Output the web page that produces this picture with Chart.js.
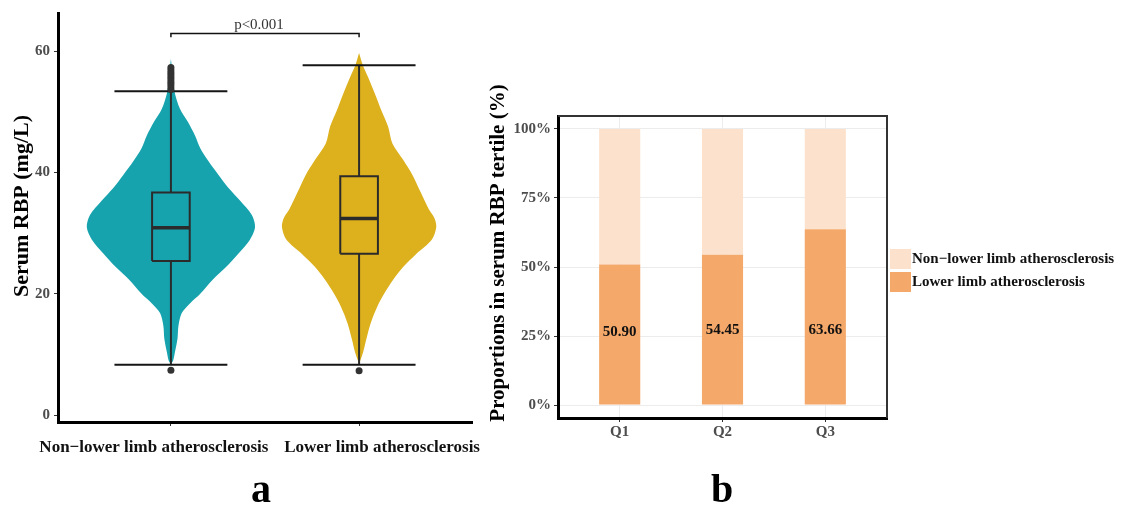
<!DOCTYPE html>
<html>
<head>
<meta charset="utf-8">
<script src="https://cdn.jsdelivr.net/npm/chart.js@4.4.0/dist/chart.umd.min.js"></script>
<style>
  html, body { margin: 0; padding: 0; background: #fff; }
  #wrap { position: relative; width: 1121px; height: 513px; overflow: hidden; }
  #violinChart { position: absolute; left: 0; top: 0; }
  #barChart { position: absolute; left: 480px; top: 0; }
</style>
</head>
<body>
<div id="wrap">
  <canvas id="violinChart" width="480" height="513"></canvas>
  <canvas id="barChart" width="641" height="513"></canvas>
</div>
<script>
// ---------- panel a: violin + box ----------
const groups = ['Non\u2212lower limb atherosclerosis', 'Lower limb atherosclerosis'];
const leftTicks = [0, 20, 40, 60];

// violin outline: RBP level and half width (in group units)
const nonLevels    = [8.4, 9.0, 10.3, 12.6, 14.7, 16.8, 18.4, 20.0, 22.3, 24.4, 26.6, 28.9, 31.0, 33.0, 35.4, 37.5, 39.6, 41.9, 44.0, 46.1, 48.4, 50.5, 53.5, 56.0, 58.7];
const nonHalfWidth = [0, 0.012, 0.021, 0.035, 0.040, 0.057, 0.101, 0.156, 0.222, 0.293, 0.358, 0.420, 0.447, 0.430, 0.367, 0.305, 0.253, 0.199, 0.156, 0.128, 0.089, 0.048, 0.018, 0.010, 0];
const lowLevels    = [8.4, 10.3, 12.6, 15.2, 17.9, 20.0, 22.3, 24.4, 26.6, 28.9, 31.0, 32.5, 34.0, 36.7, 39.4, 42.1, 44.8, 47.6, 50.2, 53.0, 55.7, 57.6, 59.7];
const lowHalfWidth = [0, 0.021, 0.039, 0.062, 0.097, 0.133, 0.181, 0.234, 0.305, 0.386, 0.410, 0.400, 0.370, 0.328, 0.287, 0.234, 0.177, 0.154, 0.119, 0.084, 0.048, 0.021, 0];

const boxQ1 = [25.4, 26.6];
const boxMedian = [30.9, 32.4];
const boxQ3 = [36.7, 39.4];
const whiskerLow = [8.3, 8.3];
const whiskerHigh = [53.4, 57.7];
const outliersNon = [7.4, 53.7, 54.1, 54.5, 54.9, 55.3, 55.7, 56.1, 56.5, 56.9, 57.3];
const outliersLow = [7.3];
const bracketY = 62.9;
const bracketTickY = 62.3;
const pLabel = 'p<0.001';

// ---------- panel b: stacked bars ----------
const tertiles = ['Q1', 'Q2', 'Q3'];
const lowerPct = [50.90, 54.45, 63.66];
const nonLowerPct = [49.10, 45.55, 36.34];
const barLabelY = [26.3, 27.0, 27.0];
const rightTicks = [0, 25, 50, 75, 100];
const legendLabels = ['Non\u2212lower limb atherosclerosis', 'Lower limb atherosclerosis'];

Chart.defaults.font.family = "'Liberation Serif', 'Times New Roman', serif";

const violinColors = ['#17A3AE', '#DDB11D'];
const barColors = ['#F4A869', '#FCE2CC'];
const tickFont = { size: 15, weight: 'bold' };
const tickColor = '#4d4d4d';

function violinPoints(c, levels, half) {
  const right = levels.map((v, i) => ({ x: c + half[i], y: v }));
  const left = levels.map((v, i) => ({ x: c - half[i], y: v })).reverse();
  return right.concat(left);
}

function lineSet(points, color, width, order) {
  return { data: points, showLine: true, borderColor: color, borderWidth: width,
           pointRadius: 0, fill: false, order: order };
}

const violinDatasets = [];
const profiles = [[nonLevels, nonHalfWidth], [lowLevels, lowHalfWidth]];
const outliers = [outliersNon, outliersLow];
const boxHalf = 0.1, capHalf = 0.3;

groups.forEach((g, i) => {
  const c = i + 1;
  violinDatasets.push({
    data: outliers[i].map(v => ({ x: c, y: v })),
    pointRadius: 3.5, backgroundColor: '#333', borderColor: '#333', borderWidth: 0, order: 0
  });
  violinDatasets.push(lineSet([{ x: c - capHalf, y: whiskerLow[i] }, { x: c + capHalf, y: whiskerLow[i] }], '#151515', 2, 1));
  violinDatasets.push(lineSet([{ x: c - capHalf, y: whiskerHigh[i] }, { x: c + capHalf, y: whiskerHigh[i] }], '#151515', 2, 1));
  violinDatasets.push(lineSet([{ x: c - boxHalf, y: boxMedian[i] }, { x: c + boxHalf, y: boxMedian[i] }], '#2b2b2b', 3.5, 2));
  violinDatasets.push(lineSet([
    { x: c - boxHalf, y: boxQ1[i] }, { x: c + boxHalf, y: boxQ1[i] },
    { x: c + boxHalf, y: boxQ3[i] }, { x: c - boxHalf, y: boxQ3[i] },
    { x: c - boxHalf, y: boxQ1[i] }], '#2b2b2b', 2, 3));
  violinDatasets.push(lineSet([{ x: c, y: whiskerLow[i] }, { x: c, y: boxQ1[i] }], '#2b2b2b', 2, 4));
  violinDatasets.push(lineSet([{ x: c, y: boxQ3[i] }, { x: c, y: whiskerHigh[i] }], '#2b2b2b', 2, 4));
  violinDatasets.push({
    data: violinPoints(c, profiles[i][0], profiles[i][1]),
    showLine: true, fill: 'shape', backgroundColor: violinColors[i],
    borderWidth: 0, borderColor: violinColors[i], pointRadius: 0, tension: 0.3, order: 5
  });
});

// significance bracket
violinDatasets.push(lineSet([
  { x: 1, y: bracketTickY }, { x: 1, y: bracketY },
  { x: 2, y: bracketY }, { x: 2, y: bracketTickY }], '#111', 1.5, 1));

function drawText(ctx, text, x, y, font, color, align, baseline, rot) {
  ctx.save();
  ctx.translate(x, y);
  if (rot) ctx.rotate(rot);
  ctx.font = font;
  ctx.fillStyle = color;
  ctx.textAlign = align;
  ctx.textBaseline = baseline;
  ctx.fillText(text, 0, 0);
  ctx.restore();
}

const serif = "'Liberation Serif', 'Times New Roman', serif";

const panelA = {
  id: 'panelA',
  afterDraw(chart) {
    const ctx = chart.ctx;
    const xs = chart.scales.x, ys = chart.scales.y;
    drawText(ctx, 'Serum RBP (mg/L)', 22, 206, 'bold 22px ' + serif, '#000', 'center', 'middle', -Math.PI / 2);
    drawText(ctx, groups[0], xs.getPixelForValue(1) - 17, 452, 'bold 17px ' + serif, '#111', 'center', 'alphabetic');
    drawText(ctx, groups[1], xs.getPixelForValue(2) + 23, 452, 'bold 17px ' + serif, '#111', 'center', 'alphabetic');
    drawText(ctx, pLabel, xs.getPixelForValue(1.5) - 6, ys.getPixelForValue(bracketY) - 5, '15px ' + serif, '#333', 'center', 'alphabetic');
    drawText(ctx, 'a', 261, 502, 'bold 40px ' + serif, '#000', 'center', 'alphabetic');
  }
};

new Chart(document.getElementById('violinChart'), {
  type: 'scatter',
  data: { datasets: violinDatasets },
  options: {
    responsive: false,
    animation: false,
    layout: { padding: { left: 0, top: 8, right: 8, bottom: 0 } },
    plugins: { legend: { display: false }, tooltip: { enabled: false } },
    scales: {
      x: {
        type: 'linear', min: 0.4, max: 2.6,
        afterBuildTicks: s => { s.ticks = groups.map((g, i) => ({ value: i + 1 })); },
        afterFit: s => { s.height = 91; },
        ticks: { display: false },
        grid: { drawOnChartArea: false, drawTicks: true, tickLength: 4, tickColor: '#333', tickWidth: 1 },
        border: { display: true, color: '#000', width: 3 }
      },
      y: {
        type: 'linear', min: -1.14, max: 66.3,
        afterBuildTicks: s => { s.ticks = leftTicks.map(v => ({ value: v })); },
        afterFit: s => { s.width = 58; },
        ticks: { font: tickFont, color: tickColor, padding: 4 },
        grid: { drawOnChartArea: false, drawTicks: true, tickLength: 4, tickColor: '#333', tickWidth: 1 },
        border: { display: true, color: '#000', width: 3 }
      }
    }
  },
  plugins: [panelA]
});

const panelB = {
  id: 'panelB',
  afterDatasetsDraw(chart) {
    const ctx = chart.ctx;
    const xs = chart.scales.x, ys = chart.scales.y;
    lowerPct.forEach((v, i) => {
      drawText(ctx, v.toFixed(2), xs.getPixelForValue(i + 1), ys.getPixelForValue(barLabelY[i]),
        'bold 15px ' + serif, '#111', 'center', 'middle');
    });
  },
  afterDraw(chart) {
    const ctx = chart.ctx;
    const a = chart.chartArea;
    // top and right of the panel frame
    ctx.save();
    ctx.strokeStyle = '#333';
    ctx.lineWidth = 2;
    ctx.beginPath();
    ctx.moveTo(a.left, a.top);
    ctx.lineTo(a.right, a.top);
    ctx.lineTo(a.right, a.bottom);
    ctx.stroke();
    ctx.restore();

    drawText(ctx, 'Proportions in serum RBP tertile (%)', 19, 253, 'bold 21px ' + serif, '#000', 'center', 'middle', -Math.PI / 2);

    // legend, upper stack first
    const items = [[legendLabels[0], barColors[1]], [legendLabels[1], barColors[0]]];
    items.forEach((it, i) => {
      const top = 249 + i * 23;
      ctx.fillStyle = it[1];
      ctx.fillRect(a.right + 3, top, 21, 20);
      drawText(ctx, it[0], a.right + 25, top + 10, 'bold 15px ' + serif, '#111', 'left', 'middle');
    });

    drawText(ctx, 'b', 242, 502, 'bold 40px ' + serif, '#000', 'center', 'alphabetic');
  }
};

new Chart(document.getElementById('barChart'), {
  type: 'bar',
  data: {
    datasets: [
      { label: legendLabels[1], data: lowerPct.map((v, i) => ({ x: i + 1, y: v })),
        backgroundColor: barColors[0], barPercentage: 0.4, categoryPercentage: 1 },
      { label: legendLabels[0], data: nonLowerPct.map((v, i) => ({ x: i + 1, y: v })),
        backgroundColor: barColors[1], barPercentage: 0.4, categoryPercentage: 1 }
    ]
  },
  options: {
    responsive: false,
    animation: false,
    layout: { padding: { left: 0, top: 116, right: 234, bottom: 0 } },
    plugins: { legend: { display: false }, tooltip: { enabled: false } },
    scales: {
      x: {
        type: 'linear', stacked: true, min: 0.4, max: 3.6, offset: false,
        afterBuildTicks: s => { s.ticks = tertiles.map((t, i) => ({ value: i + 1 })); },
        afterFit: s => { s.height = 95; },
        ticks: { callback: v => tertiles[v - 1], font: tickFont, color: tickColor, padding: 1 },
        grid: { offset: false, color: '#ececec', lineWidth: 1, tickLength: 4, tickColor: '#333', tickWidth: 1 },
        border: { display: true, color: '#000', width: 3 }
      },
      y: {
        stacked: true, min: -4.7, max: 104.7,
        afterBuildTicks: s => { s.ticks = rightTicks.map(v => ({ value: v })); },
        afterFit: s => { s.width = 78; },
        ticks: { callback: v => v + '%', font: tickFont, color: tickColor, padding: 3 },
        grid: { color: '#ececec', lineWidth: 1, tickLength: 4, tickColor: '#333', tickWidth: 1 },
        border: { display: true, color: '#000', width: 3 }
      }
    }
  },
  plugins: [panelB]
});
</script>
</body>
</html>
